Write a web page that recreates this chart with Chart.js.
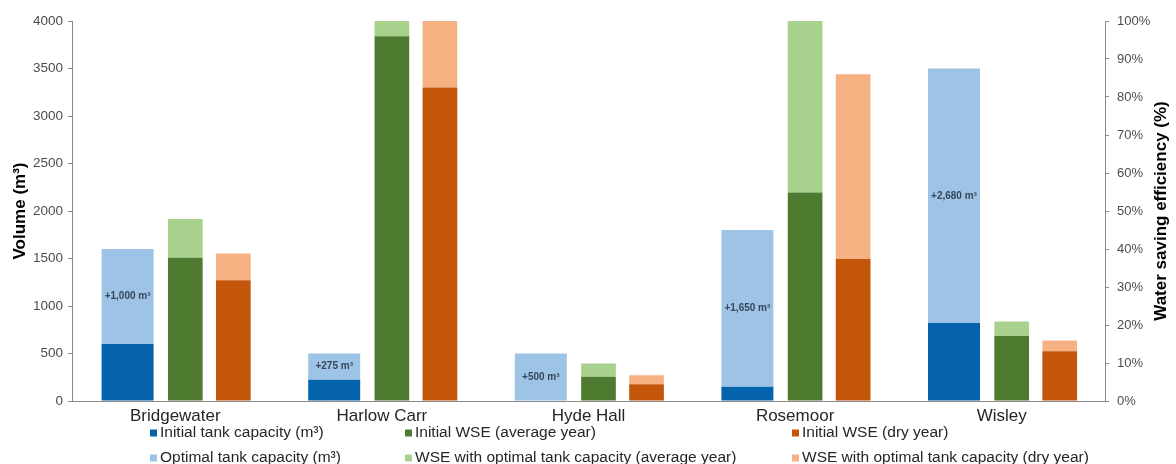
<!DOCTYPE html>
<html lang="en">
<head>
  <meta charset="UTF-8">
  <title>Tank capacity and water saving efficiency</title>
  <script src="https://cdn.jsdelivr.net/npm/chart.js"></script>
  <style>
    html, body { margin: 0; padding: 0; background: #fff; overflow: hidden; }
    #wrap { width: 1176px; height: 464px; position: relative; }
  </style>
</head>
<body>
  <div id="wrap"><canvas id="tankChart"></canvas></div>

  <script>
    // values
    const sites = ['Bridgewater', 'Harlow Carr', 'Hyde Hall', 'Rosemoor', 'Wisley'];
    const tankInitial = [600, 225, 0, 150, 820];          // m3
    const tankAdded = [1000, 275, 500, 1650, 2680];       // m3 extra to reach optimal
    const wseAvgInitial = [37.7, 96, 6.4, 54.9, 17.1];    // %
    const wseAvgGain = [10.2, 4, 3.5, 45.1, 3.8];         // %
    const wseDryInitial = [31.8, 82.5, 4.4, 37.4, 13.1];  // %
    const wseDryGain = [7, 17.5, 2.4, 48.6, 2.8];         // %
    const volumeTicks = { min: 0, max: 4000, step: 500 };
    const pctTicks = { min: 0, max: 100, step: 10 };

    const FONT = "'Liberation Sans', Arial, sans-serif";
    const AXIS_GREY = '#8a8a8a';

    // the tank bar is wider than the two WSE bars; an empty first stack plus
    // per-stack category/bar percentages puts the three bars where the original has them
    const slot = {
      tank: { categoryPercentage: 1.847, barPercentage: 0.545 },
      avg:  { categoryPercentage: 0.387, barPercentage: 1.735 },
      dry:  { categoryPercentage: 0.749, barPercentage: 0.897 }
    };

    const datasets = [
      { label: '', data: [], stack: 'pad', yAxisID: 'y' },
      { label: 'Initial tank capacity (m³)', data: tankInitial, stack: 'tank', yAxisID: 'y', backgroundColor: '#0563ad', ...slot.tank },
      { label: 'Optimal tank capacity (m³)', data: tankAdded, stack: 'tank', yAxisID: 'y', backgroundColor: '#9dc3e6', ...slot.tank },
      { label: 'Initial WSE (average year)', data: wseAvgInitial, stack: 'avg', yAxisID: 'y2', backgroundColor: '#4e7b2f', ...slot.avg },
      { label: 'WSE with optimal tank capacity (average year)', data: wseAvgGain, stack: 'avg', yAxisID: 'y2', backgroundColor: '#a9d18e', ...slot.avg },
      { label: 'Initial WSE (dry year)', data: wseDryInitial, stack: 'dry', yAxisID: 'y2', backgroundColor: '#c4560c', ...slot.dry },
      { label: 'WSE with optimal tank capacity (dry year)', data: wseDryGain, stack: 'dry', yAxisID: 'y2', backgroundColor: '#f6b183', ...slot.dry }
    ];

    // "+1,000 m³" style labels in the middle of the light blue segments
    const gainLabels = {
      id: 'gainLabels',
      afterDatasetsDraw(chart) {
        const ctx = chart.ctx;
        const meta = chart.getDatasetMeta(2);
        ctx.save();
        ctx.font = 'bold 10px ' + FONT;
        ctx.fillStyle = '#3a4658';
        ctx.textAlign = 'center';
        ctx.textBaseline = 'middle';
        meta.data.forEach((bar, i) => {
          const txt = '+' + tankAdded[i].toLocaleString('en-US') + ' m³';
          ctx.fillText(txt, bar.x, (bar.y + bar.base) / 2);
        });
        ctx.restore();
      }
    };

    // right axis title reads bottom-to-top, and the legend sits in three columns
    const extras = {
      id: 'extras',
      afterDraw(chart) {
        const ctx = chart.ctx, area = chart.chartArea;
        ctx.save();
        ctx.font = 'bold 17px ' + FONT;
        ctx.fillStyle = '#000';
        ctx.textAlign = 'center';
        ctx.textBaseline = 'middle';
        ctx.translate(1161, (area.top + area.bottom) / 2);
        ctx.rotate(-Math.PI / 2);
        ctx.fillText('Water saving efficiency (%)', 0, 0);
        ctx.restore();

        const cols = [150, 405, 792], rows = [433, 458];
        const order = [[1, 2], [3, 4], [5, 6]];
        ctx.save();
        ctx.font = '15.5px ' + FONT;
        ctx.textBaseline = 'middle';
        ctx.textAlign = 'left';
        order.forEach((pair, c) => {
          pair.forEach((di, r) => {
            const ds = chart.data.datasets[di];
            ctx.fillStyle = ds.backgroundColor;
            ctx.fillRect(cols[c], rows[r] - 3.5, 7, 7);
            ctx.fillStyle = '#262626';
            ctx.fillText(ds.label, cols[c] + 10, rows[r]);
          });
        });
        ctx.restore();
      }
    };

    new Chart(document.getElementById('tankChart'), {
      type: 'bar',
      data: { labels: sites, datasets },
      options: {
        responsive: true,
        maintainAspectRatio: false,
        animation: false,
        layout: { padding: { top: 21, right: 0, bottom: 0, left: 0 } },
        plugins: { legend: { display: false }, tooltip: { enabled: false } },
        scales: {
          x: {
            grid: { display: false, drawTicks: false },
            border: { display: true, color: AXIS_GREY },
            ticks: { color: '#262626', font: { family: FONT, size: 17 }, padding: 5, maxRotation: 0 },
            afterFit: s => { s.height = 63; }
          },
          y: {
            position: 'left',
            stacked: true,
            min: volumeTicks.min, max: volumeTicks.max,
            grid: { drawOnChartArea: false, drawTicks: true, tickLength: 4, color: AXIS_GREY },
            border: { display: true, color: AXIS_GREY },
            ticks: { stepSize: volumeTicks.step, color: '#4d4d4d', font: { family: FONT, size: 13.5 }, padding: 5, callback: v => String(v) },
            title: { display: true, text: 'Volume (m³)', color: '#000', font: { family: FONT, size: 17, weight: 'bold' }, padding: { top: 10, bottom: 0 } },
            afterFit: s => { s.width = 72; }
          },
          y2: {
            position: 'right',
            stacked: true,
            min: pctTicks.min, max: pctTicks.max,
            grid: { drawOnChartArea: false, drawTicks: true, tickLength: 4, color: AXIS_GREY },
            border: { display: true, color: AXIS_GREY },
            ticks: { stepSize: pctTicks.step, color: '#4d4d4d', font: { family: FONT, size: 13 }, padding: 8, callback: v => v + '%' },
            afterFit: s => { s.width = 71; }
          }
        }
      },
      plugins: [gainLabels, extras]
    });
  </script>
</body>
</html>
